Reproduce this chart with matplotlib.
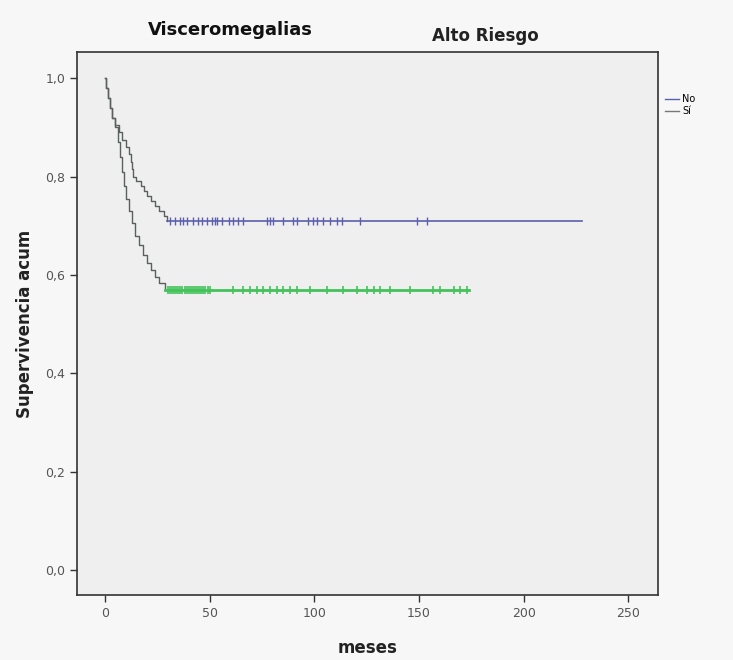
import matplotlib
matplotlib.use("Agg")
import matplotlib.pyplot as plt
from matplotlib.lines import Line2D

# Group "No" (event part of the Kaplan-Meier curve)
no_time = [0, 0.5, 1.5, 2.5, 3.5, 5, 6.5, 8, 10, 11.5, 12.5, 13, 13.5, 15, 17, 18.5,
           20, 22, 24, 26, 28, 29.6]
no_surv = [1.0, 0.98, 0.96, 0.94, 0.92, 0.905, 0.89, 0.875, 0.86, 0.845, 0.83, 0.815,
           0.80, 0.79, 0.78, 0.77, 0.76, 0.75, 0.74, 0.73, 0.72, 0.71]
no_end = 228
no_censored = [31, 33.5, 35.8, 37.4, 39, 42.2, 44.6, 46.2, 48.6, 51, 52.6, 53.4, 55.8,
               59, 61.3, 63.7, 66, 77.3, 78.9, 80.4, 85.2, 90, 91.6, 97.2, 99.6,
               101.2, 104.3, 107.6, 110.8, 113.1, 121.9, 149, 153.8]

# Group "Sí"
si_time = [0, 0.5, 1.5, 2.5, 3.5, 5, 6, 7, 8, 9, 10, 11.5, 13, 14.5, 16, 18, 20, 22,
           24, 26, 28.7]
si_surv = [1.0, 0.98, 0.96, 0.94, 0.92, 0.90, 0.87, 0.84, 0.81, 0.78, 0.755, 0.73,
           0.705, 0.68, 0.66, 0.64, 0.625, 0.61, 0.595, 0.583, 0.57]
si_end = 174
si_censored = [30, 31, 32, 33, 34, 35, 36, 37, 38, 39, 40, 41, 42, 43, 44, 45, 46, 47,
               48, 49, 50, 61.3, 66.1, 69.3, 72.5, 75.7, 78.9, 82, 85.2, 88.4, 91.6,
               98, 106, 113.9, 120.3, 125.1, 128.3, 131.5, 136.3, 145.8, 156.9,
               160.1, 166.5, 169.7, 172.9]

xticks = [0, 50, 100, 150, 200, 250]
yticks = [0.0, 0.2, 0.4, 0.6, 0.8, 1.0]
ytick_labels = ["0,0", "0,2", "0,4", "0,6", "0,8", "1,0"]
groups = ["No", "Sí"]

col_no = "#5b5fae"
col_si = "#43c35a"
col_step = "#5a6060"

fig = plt.figure(figsize=(7.33, 6.60), dpi=100, facecolor="#f7f7f7")
ax = fig.add_axes([0.105, 0.0985, 0.793, 0.8225])
ax.set_facecolor("#efefef")

# descending step parts
ax.step(no_time, no_surv, where="post", color=col_step, lw=1.0)
ax.step(si_time, si_surv, where="post", color=col_step, lw=1.0)
# plateaus
ax.plot([no_time[-1], no_end], [no_surv[-1]] * 2, color=col_no, lw=1.2)
ax.plot([si_time[-1], si_end], [si_surv[-1]] * 2, color=col_si, lw=2.0)
# censored marks
ax.plot(no_censored, [no_surv[-1]] * len(no_censored), ls="none", marker="|",
        ms=6, mew=1.0, color=col_no)
ax.plot(si_censored, [si_surv[-1]] * len(si_censored), ls="none", marker="|",
        ms=6, mew=1.2, color=col_si)

ax.set_xlim(-13.4, 264.3)
ax.set_ylim(-0.051, 1.053)
ax.set_xticks(xticks)
ax.set_xticklabels([str(v) for v in xticks], color="#555555", fontsize=9)
ax.set_yticks(yticks)
ax.set_yticklabels(ytick_labels, color="#555555", fontsize=9)
ax.tick_params(direction="out", length=5, width=1, color="#333333")
for s in ax.spines.values():
    s.set_color("#333333")
    s.set_linewidth(1.2)

ax.set_xlabel("meses", fontsize=12, fontweight="bold", color="#222222", labelpad=14)
ax.set_ylabel("Supervivencia acum", fontsize=12, fontweight="bold", color="#222222", labelpad=8)

fig.text(0.314, 0.955, "Visceromegalias", fontsize=13, fontweight="bold",
         ha="center", va="center", color="#111111")
fig.text(0.662, 0.945, "Alto Riesgo", fontsize=12, fontweight="bold",
         ha="center", va="center", color="#222222")

# legend outside right
handles = [Line2D([0], [0], color=col_no, lw=1), Line2D([0], [0], color="#777777", lw=1)]
fig.legend(handles, groups, loc="upper left", bbox_to_anchor=(0.9, 0.865),
           frameon=False, fontsize=7, handlelength=1.5, handletextpad=0.3,
           labelspacing=0.2, borderpad=0)

fig.savefig("out.png", dpi=100, facecolor=fig.get_facecolor())
